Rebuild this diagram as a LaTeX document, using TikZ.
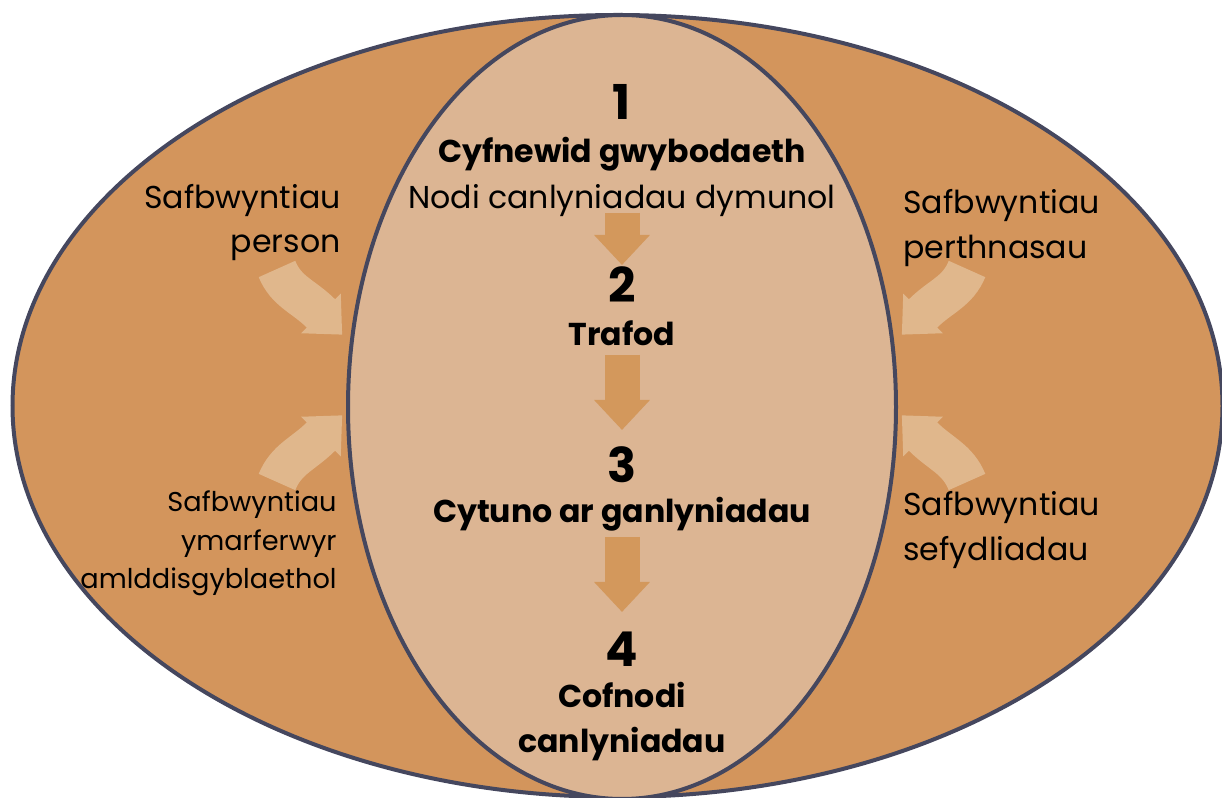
\documentclass[tikz,border=0pt]{standalone}
\usepackage{fontspec}
\setmainfont{Poppins}
\usetikzlibrary{arrows.meta}
\definecolor{outerbg}{HTML}{D3955C}
\definecolor{innerbg}{HTML}{DCB593}
\definecolor{rim}{HTML}{45475E}
\definecolor{flowarr}{HTML}{D3985C}
\definecolor{inarr}{HTML}{E0B78C}
\newcommand{\lblfont}{\fontsize{15.8}{19}\selectfont}
\newcommand{\smlfont}{\fontsize{13.6}{16}\selectfont}
\newcommand{\numfont}{\fontsize{24}{28}\selectfont\bfseries}
\newcommand{\stepfont}{\fontsize{15.8}{19}\selectfont\bfseries}

\begin{document}
\begin{tikzpicture}[x=0.5pt,y=0.5pt,
  lbl/.style={inner sep=0,text=black,font=\lblfont},
  sml/.style={inner sep=0,text=black,font=\smlfont},
  num/.style={inner sep=0,text=black,font=\numfont,anchor=base},
  stepl/.style={inner sep=0,text=black,font=\stepfont,anchor=base},
  flow/.style={flowarr,line width=17.5pt,-{Triangle[length=15pt,width=27pt]}},
  push/.style={inarr,line width=20pt,-{Triangle[length=15pt,width=27pt]}}]
\useasboundingbox (0,0) rectangle (1222,798);
\clip (0,0) rectangle (1222,798);
% ellipses
\draw[rim,fill=outerbg,line width=2pt] (617.5,392) ellipse (605 and 391);
\draw[rim,fill=innerbg,line width=2pt] (622,391) ellipse (274 and 392);
% end points of the arrows
\coordinate (f1a) at (622,585); \coordinate (f1b) at (622,533);
\coordinate (f2a) at (622,443); \coordinate (f2b) at (622,368);
\coordinate (f3a) at (622,261); \coordinate (f3b) at (622,186);
\coordinate (lta) at (277,529); \coordinate (ltb) at (321,484.5); \coordinate (ltt) at (342.2,463.3);
\coordinate (lba) at (277,316); \coordinate (lbb) at (321,361.5); \coordinate (lbt) at (342.2,382.7);
\coordinate (rta) at (967,529); \coordinate (rtb) at (923,484.5); \coordinate (rtt) at (901.8,463.3);
\coordinate (rba) at (967,316); \coordinate (rbb) at (923,361.5); \coordinate (rbt) at (901.8,382.7);
\draw[flow] (f1a) -- (f1b);
\draw[flow] (f2a) -- (f2b);
\draw[flow] (f3a) -- (f3b);
\draw[push] (lta) to[out=-68,in=135] (ltb) -- (ltt);
\draw[push] (lba) to[out=68,in=225] (lbb) -- (lbt);
\draw[push] (rta) to[out=-112,in=45] (rtb) -- (rtt);
\draw[push] (rba) to[out=112,in=-45] (rbb) -- (rbt);
% steps
\node[num] (n1) at (622,678) {1};
\node[stepl] (t1a) at (622,635) {Cyfnewid gwybodaeth};
\node[lbl,anchor=base] (t1b) at (622,589) {Nodi canlyniadau dymunol};
\node[num] (n2) at (622,495) {2};
\node[stepl] (t2) at (622,452) {Trafod};
\node[num] (n3) at (622,315) {3};
\node[stepl] (t3) at (622,275) {Cytuno ar ganlyniadau};
\node[num] (n4) at (622,131) {4};
\node[stepl] (t4a) at (622,90) {Cofnodi};
\node[stepl] (t4b) at (622,45) {canlyniadau};
% side labels
\node[lbl,anchor=base east] (pa) at (341,589) {Safbwyntiau};
\node[lbl,anchor=base east] (pb) at (341,545) {person};
\node[lbl,anchor=base west] (ra) at (903,584) {Safbwyntiau};
\node[lbl,anchor=base west] (rb) at (903,539) {perthnasau};
\node[sml,anchor=base east] (ma) at (337,286) {Safbwyntiau};
\node[sml,anchor=base east] (mb) at (337,247) {ymarferwyr};
\node[sml,anchor=base east] (mc) at (337,209) {amlddisgyblaethol};
\node[lbl,anchor=base west] (sa) at (903,282) {Safbwyntiau};
\node[lbl,anchor=base west] (sb) at (903,237) {sefydliadau};
\end{tikzpicture}
\end{document}
